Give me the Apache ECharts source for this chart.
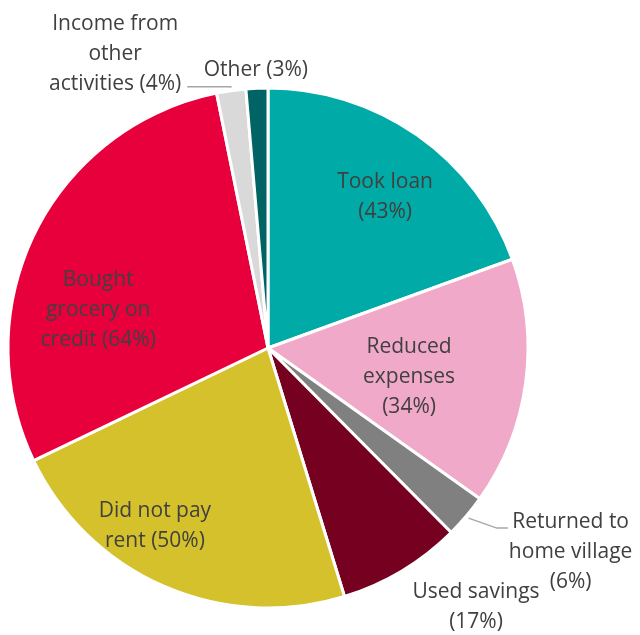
<!DOCTYPE html>
<html>
<head>
<meta charset="utf-8">
<script src="https://cdn.jsdelivr.net/npm/echarts@6/dist/echarts.min.js"></script>
<style>
  html, body { margin: 0; padding: 0; background: #ffffff; }
  #chart { width: 640px; height: 635px; }
</style>
</head>
<body>
<div id="chart"></div>
<script>
// Coping strategies (share of households, %), clockwise from 12 o'clock
const categories = [
  'Took loan',
  'Reduced expenses',
  'Returned to home village',
  'Used savings',
  'Did not pay rent',
  'Bought grocery on credit',
  'Income from other activities',
  'Other'
];
const values = [43, 34, 6, 17, 50, 64, 4, 3];

// Wrapped label text; {v} is replaced by the value
const labelTemplates = [
  'Took loan\n({v}%)',
  'Reduced\nexpenses\n({v}%)',
  'Returned to\nhome village\n({v}%)',
  'Used savings\n({v}%)',
  'Did not pay\nrent ({v}%)',
  'Bought\ngrocery on\ncredit ({v}%)',
  'Income from\nother\nactivities ({v}%)',
  'Other ({v}%)'
];

const colors = ['#00AAA6', '#F0A9C8', '#808080', '#75001F', '#D4C12B', '#E8003D', '#D9D9D9', '#006465'];

// Pie geometry
const CX = 268, CY = 348, R = 260;
const LINE_H = 30;

// Label centres in polar form relative to the pie centre: [angle in degrees clockwise from top, radius px]
const labelPolar = [
  [37.8, 191], [101.6, 144], [124.0, 365], [141.2, 332],
  [212.4, 211], [282.6, 174], [332.5, 331], [357.5, 278]
];
// Slices that get a leader line
const withLine = { 2: true, 6: true };

function polar(angleDeg, r) {
  const a = angleDeg * Math.PI / 180;
  return [CX + r * Math.sin(a), CY - r * Math.cos(a)];
}

const total = values.reduce((s, v) => s + v, 0);
const midAngles = [];
let acc = 0;
values.forEach(v => { midAngles.push((acc + v / 2) / total * 360); acc += v; });

const chart = echarts.init(document.getElementById('chart'), null, { renderer: 'canvas' });

chart.setOption({
  animation: false,
  backgroundColor: '#ffffff',
  series: [{
    type: 'pie',
    center: [CX, CY],
    radius: [0, R],
    startAngle: 90,
    clockwise: true,
    avoidLabelOverlap: false,
    itemStyle: { borderColor: '#ffffff', borderWidth: 3 },
    label: {
      show: true,
      position: 'outside',
      fontFamily: '"Open Sans", sans-serif',
      fontSize: 21,
      lineHeight: LINE_H,
      color: '#404040',
      align: 'center',
      formatter: p => labelTemplates[p.dataIndex].replace('{v}', p.value)
    },
    labelLine: {
      show: true,
      lineStyle: { color: '#A6A6A6', width: 1.5 }
    },
    labelLayout: function (params) {
      const i = params.dataIndex;
      const pos = polar(labelPolar[i][0], labelPolar[i][1]);
      const out = { x: pos[0], y: pos[1], align: 'center', verticalAlign: 'middle' };
      if (withLine[i]) {
        const start = polar(midAngles[i], R + 3);
        const rect = params.labelRect;
        if (i === 6) {
          // runs left along the bottom of the label block
          const endX = pos[0] + rect.width / 2 + 6;
          out.labelLinePoints = [start, [start[0], start[1] - 1], [endX, start[1] - 1]];
        } else {
          // meets the first text line from the lower left
          const endX = pos[0] - rect.width / 2 - 1;
          const yEnd = pos[1] - rect.height / 2 + 21;
          out.labelLinePoints = [start, [endX - 11, yEnd], [endX, yEnd]];
        }
      } else {
        out.labelLinePoints = [[pos[0], pos[1]], [pos[0], pos[1]], [pos[0], pos[1]]];
      }
      return out;
    },
    data: categories.map((name, i) => ({
      name: name,
      value: values[i],
      itemStyle: { color: colors[i] },
      labelLine: { show: !!withLine[i] }
    }))
  }]
});
</script>
</body>
</html>
